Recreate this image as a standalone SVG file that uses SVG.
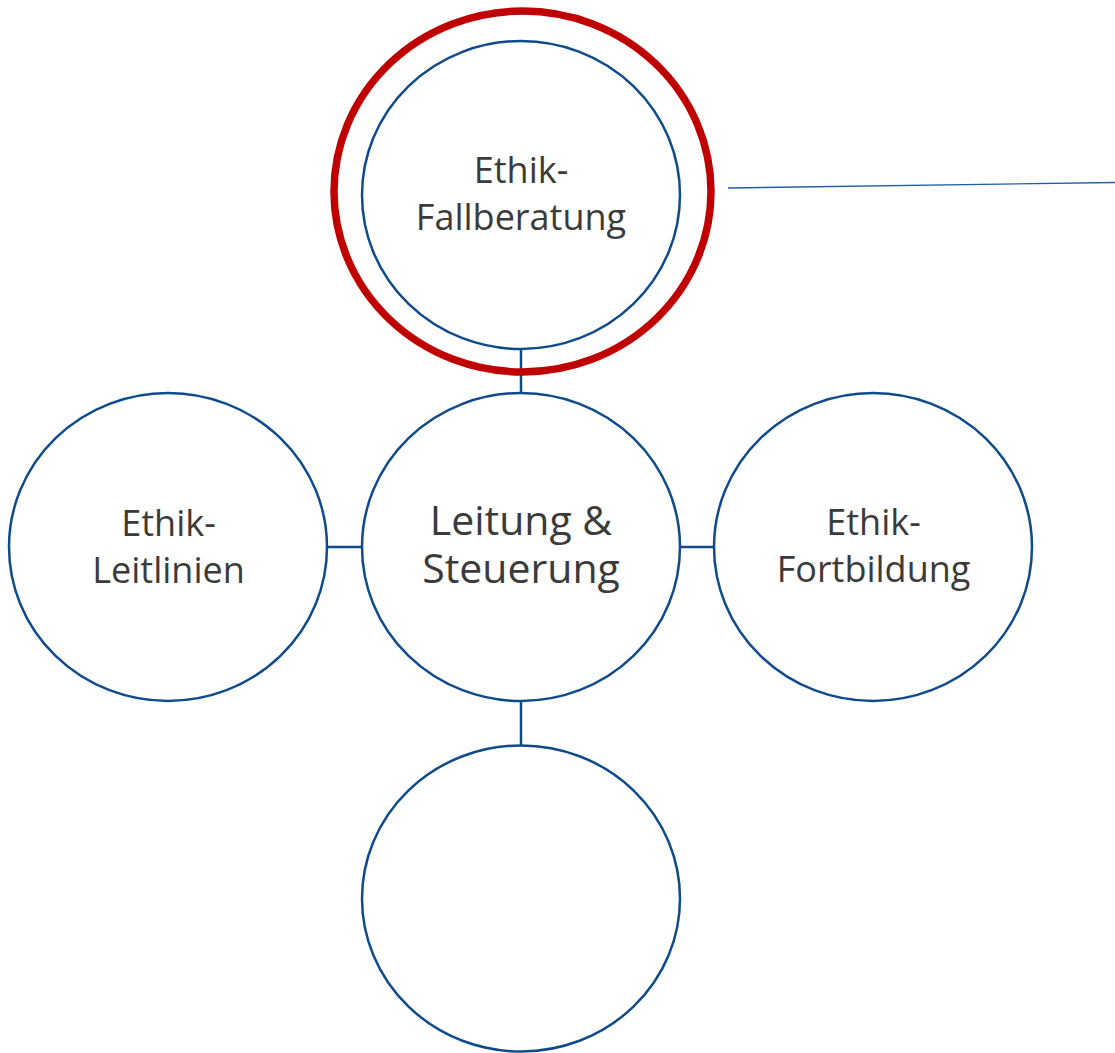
<svg xmlns="http://www.w3.org/2000/svg" width="1115" height="1053" viewBox="0 0 1115 1053">
<style>
.node{fill:#ffffff;stroke:#0f4a8b;stroke-width:2.5}
.conn{stroke:#0f4a8b;stroke-width:2.5;fill:none}
.thin{stroke:#1f5fa6;stroke-width:1.4;fill:none}
.ring{fill:none;stroke:#c00000;stroke-width:7.5}
.lbl{font-family:"Open Sans","Liberation Sans",sans-serif;font-size:36px;fill:#3b3b3b;text-anchor:middle}
.big{font-size:41px}
</style>
<rect width="1115" height="1053" fill="#ffffff"/>
<g id="connectors">
<line class="conn" x1="521" y1="349" x2="521" y2="393"/>
<line class="conn" x1="521" y1="701" x2="521" y2="746"/>
<line class="conn" x1="327" y1="547" x2="362" y2="547"/>
<line class="conn" x1="680" y1="547" x2="714" y2="547"/>
<line class="thin" x1="728" y1="188" x2="1115" y2="182.5"/>
</g>
<g id="fallberatung">
<ellipse class="ring" cx="522.5" cy="191.5" rx="188.5" ry="180.5"/>
<ellipse class="node" cx="521" cy="195" rx="159" ry="154"/>
<text class="lbl" x="521" y="183">Ethik-</text>
<text class="lbl" x="521" y="230">Fallberatung</text>
</g>
<g id="leitung">
<ellipse class="node" cx="521" cy="547" rx="159" ry="154"/>
<text class="lbl big" x="521" y="535">Leitung &amp;</text>
<text class="lbl big" x="521" y="583">Steuerung</text>
</g>
<g id="leitlinien">
<ellipse class="node" cx="168" cy="547" rx="159" ry="154"/>
<text class="lbl" x="168.5" y="536">Ethik-</text>
<text class="lbl" x="168.5" y="583">Leitlinien</text>
</g>
<g id="fortbildung">
<ellipse class="node" cx="873" cy="547" rx="159" ry="154"/>
<text class="lbl" x="873.5" y="535">Ethik-</text>
<text class="lbl" x="873.5" y="582">Fortbildung</text>
</g>
<g id="bottom">
<ellipse class="node" cx="521" cy="898.5" rx="159" ry="153"/>
</g>
</svg>
